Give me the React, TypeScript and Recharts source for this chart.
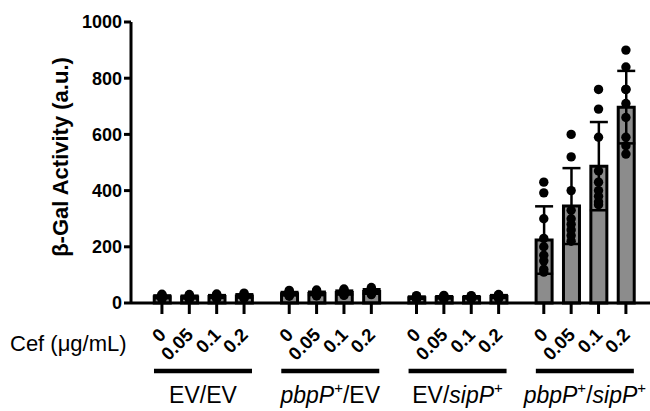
import React from "react";
import { ComposedChart, Bar, Scatter, XAxis, YAxis, ErrorBar } from "recharts";

// strains (groups) and cefotaxime doses
const groupLabels = ["EV/EV", "pbpP+/EV", "EV/sipP+", "pbpP+/sipP+"];
const cefLabels = ["0", "0.05", "0.1", "0.2"];
const yTicks = [0, 200, 400, 600, 800, 1000];

// mean β-Gal activity per group, per dose
const means = [
  [22, 21, 23, 25],
  [33, 34, 37, 41],
  [19, 20, 20, 23],
  [224, 345, 487, 697],
];
const sds = [
  [5, 5, 5, 6],
  [6, 6, 7, 8],
  [4, 4, 4, 5],
  [120, 135, 157, 129],
];

// individual replicates
const replicates = [
  [
    [14, 17, 19, 21, 22, 24, 26, 28, 31],
    [13, 16, 18, 20, 21, 23, 25, 27, 30],
    [15, 18, 20, 22, 23, 25, 27, 29, 32],
    [16, 19, 21, 23, 25, 27, 29, 31, 35],
  ],
  [
    [24, 27, 29, 31, 33, 35, 38, 41, 45],
    [25, 28, 30, 32, 34, 36, 39, 42, 46],
    [27, 30, 32, 35, 37, 39, 42, 45, 50],
    [30, 33, 36, 39, 41, 44, 47, 50, 55],
  ],
  [
    [13, 15, 17, 18, 19, 20, 22, 23, 26],
    [14, 16, 17, 19, 20, 21, 23, 24, 27],
    [14, 16, 18, 19, 20, 21, 22, 24, 26],
    [16, 18, 20, 22, 23, 24, 26, 28, 30],
  ],
  [
    [430, 392, 300, 230, 200, 170, 150, 120, 110],
    [600, 520, 400, 330, 300, 280, 260, 240, 220],
    [760, 690, 590, 470, 430, 400, 380, 360, 350],
    [900, 840, 760, 760, 710, 660, 590, 560, 530],
  ],
];

const GROUP_STEP = 4.65;
const pos = (g: number, i: number) => g * GROUP_STEP + i;

const barData = means.flatMap((row, g) =>
  row.map((m, i) => ({ x: pos(g, i), mean: m, sd: sds[g][i] }))
);
const dotData = replicates.flatMap((grp, g) =>
  grp.flatMap((vals, i) => vals.map((v) => ({ x: pos(g, i), y: v })))
);
const barTicks = barData.map((d) => d.x);
const groupTicks = groupLabels.map((_, g) => pos(g, 1.5));

const FONT = "'Liberation Sans', Arial, sans-serif";
const xDomain = [-1.13, 17.83];

const CefTick = (props: any) => {
  const { x, y, index } = props;
  return (
    <g transform={`translate(${x + 5},${y + 20})`}>
      <text
        textAnchor="end"
        transform="rotate(-45)"
        fontFamily={FONT}
        fontWeight="bold"
        fontSize={18.5}
        fill="#000"
      >
        {cefLabels[index % 4]}
      </text>
    </g>
  );
};

// gene names in italics, "+" as superscript
const renderLabel = (label: string) => {
  const out: React.ReactNode[] = [];
  let shift = 0;
  label.split("/").forEach((p, k) => {
    if (k > 0) {
      out.push(
        <tspan key={`s${k}`} dy={shift}>
          /
        </tspan>
      );
      shift = 0;
    }
    if (p.endsWith("+")) {
      out.push(
        <tspan key={`g${k}`} fontStyle="italic">
          {p.slice(0, -1)}
        </tspan>
      );
      out.push(
        <tspan key={`p${k}`} dy={-10} fontSize={15}>
          +
        </tspan>
      );
      shift = 10;
    } else {
      out.push(<tspan key={`t${k}`}>{p}</tspan>);
    }
  });
  return out;
};

const GroupTick = (props: any) => {
  const { x, y, index } = props;
  return (
    <g>
      <line x1={x - 49} x2={x + 49} y1={y - 2} y2={y - 2} stroke="#000" strokeWidth={4.5} />
      <text
        x={x}
        y={y + 30}
        textAnchor="middle"
        fontFamily={FONT}
        fontSize={23}
        fill="#000"
      >
        {renderLabel(groupLabels[index])}
      </text>
    </g>
  );
};

export default function App() {
  return (
    <div style={{ position: "absolute", left: 0, top: 0, background: "#fff" }}>
      <ComposedChart
        width={650}
        height={411}
        data={barData}
        margin={{ top: 22, right: 0, bottom: 0, left: 0 }}
      >
        <XAxis
          dataKey="x"
          type="number"
          domain={xDomain}
          allowDataOverflow
          ticks={barTicks}
          interval={0}
          height={70}
          tickSize={11}
          axisLine={{ stroke: "#000", strokeWidth: 3 }}
          tickLine={{ stroke: "#000", strokeWidth: 3 }}
          tick={<CefTick />}
          label={{
            content: () => (
              <text x={10} y={351} fontFamily={FONT} fontSize={22} fill="#000">
                Cef (μg/mL)
              </text>
            ),
          }}
        />
        <XAxis
          xAxisId="grp"
          dataKey="x"
          type="number"
          domain={xDomain}
          allowDataOverflow
          ticks={groupTicks}
          interval={0}
          height={38}
          tickSize={0}
          tickMargin={0}
          axisLine={false}
          tickLine={false}
          tick={<GroupTick />}
        />
        <YAxis
          type="number"
          domain={[0, 1000]}
          ticks={yTicks}
          width={131}
          tickSize={7}
          axisLine={{ stroke: "#000", strokeWidth: 3 }}
          tickLine={{ stroke: "#000", strokeWidth: 3 }}
          tick={{ fill: "#000", fontFamily: FONT, fontWeight: "bold", fontSize: 18 }}
          label={{
            content: () => (
              <text
                x={60}
                y={157}
                transform="rotate(-90, 60, 157)"
                textAnchor="middle"
                dominantBaseline="central"
                fontFamily={FONT}
                fontWeight="bold"
                fontSize={22}
                fill="#000"
              >
                β-Gal Activity (a.u.)
              </text>
            ),
          }}
        />
        <Bar
          dataKey="mean"
          barSize={16}
          fill="#8c8c8c"
          stroke="#000"
          strokeWidth={3}
          isAnimationActive={false}
        >
          <ErrorBar dataKey="sd" direction="y" width={9} stroke="#000" strokeWidth={2.5} />
        </Bar>
        <Scatter
          data={dotData}
          dataKey="y"
          isAnimationActive={false}
          shape={(p: any) => <circle cx={p.cx} cy={p.cy} r={4.7} fill="#000" />}
        />
      </ComposedChart>
    </div>
  );
}
